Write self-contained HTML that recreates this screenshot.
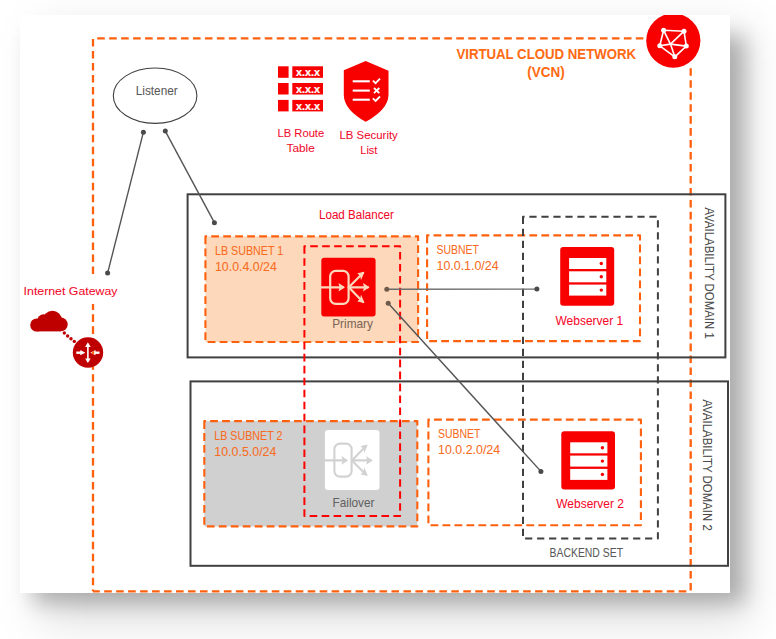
<!DOCTYPE html>
<html><head><meta charset="utf-8">
<style>
html,body{margin:0;padding:0;background:#fff;width:776px;height:639px;overflow:hidden;}
#shadow{position:absolute;left:33px;top:36px;width:712px;height:567px;background:rgba(0,0,0,0.24);filter:blur(10px);}#shadow2{position:absolute;left:40px;top:30px;width:708px;height:592px;background:rgba(0,0,0,0.13);filter:blur(22px);}
#card{position:absolute;left:20px;top:15px;width:710px;height:578px;background:#fff;}
svg{position:absolute;left:0;top:0;}
text{font-family:"Liberation Sans",sans-serif;stroke:currentColor;}
</style></head>
<body>
<div id="shadow2"></div><div id="shadow"></div><div id="card"></div>
<svg width="776" height="639" viewBox="0 0 776 639">
<defs>
<clipPath id="rarrow"><path d="M90.4,352.7 L95.5,350.1 L95.5,355.3 Z"/><rect x="95" y="351.5" width="4.5" height="2.4"/></clipPath>
<clipPath id="cardclip"><rect x="20" y="15" width="710" height="578"/></clipPath>
<clipPath id="peach"><rect x="205.4" y="236.4" width="212.7" height="105.6"/></clipPath>
</defs>

<!-- VCN dashed -->
<g stroke="#FF600D" stroke-width="2.3" stroke-dasharray="7.6 4.37" fill="none">
<line x1="93" y1="38.4" x2="690.7" y2="38.4" stroke-dashoffset="7.77"/>
<line x1="93" y1="37.2" x2="93" y2="591.3" stroke-dashoffset="10.17"/>
<line x1="690.7" y1="38.4" x2="690.7" y2="591.3" stroke-dashoffset="6.08"/>
<line x1="93" y1="591.3" x2="690.7" y2="591.3" stroke-dashoffset="0.8"/>
</g>

<!-- Availability domains -->
<rect x="187.6" y="194.3" width="537.8" height="163.1" fill="none" stroke="#404040" stroke-width="2"/>
<rect x="190.5" y="381.4" width="537.5" height="184.4" fill="none" stroke="#404040" stroke-width="2"/>
<text color="#404040" stroke-width="0.05" transform="translate(705.1,207.4) rotate(90)" font-size="12.3" fill="#4a4a4a" textLength="131.4" lengthAdjust="spacingAndGlyphs">AVAILABILITY DOMAIN 1</text>
<text color="#404040" stroke-width="0.05" transform="translate(703.4,399.4) rotate(90)" font-size="12.3" fill="#4a4a4a" textLength="131.4" lengthAdjust="spacingAndGlyphs">AVAILABILITY DOMAIN 2</text>

<!-- subnets -->
<rect x="205.4" y="236.4" width="212.7" height="105.6" fill="#FDD8BA"/><path d="M205.4,236.4 L205.4,342 L418.1,342 L418.1,236.4 Z" fill="none" stroke="#FF600D" stroke-width="2.1" stroke-dasharray="7.8 4.18" stroke-dashoffset="0" stroke-linejoin="round"/>
<path d="M427.1,235.4 L427.1,341.1 L640,341.1 L640,235.4 Z" fill="none" stroke="#FF600D" stroke-width="2.1" stroke-dasharray="7.8 4.18" stroke-dashoffset="0" stroke-linejoin="round"/>
<rect x="204.3" y="421.1" width="213" height="105.3" fill="#D0D0D0"/><path d="M204.3,421.1 L204.3,526.4 L417.3,526.4 L417.3,421.1 Z" fill="none" stroke="#FF600D" stroke-width="2.1" stroke-dasharray="7.8 4.18" stroke-dashoffset="0" stroke-linejoin="round"/>
<path d="M428.4,419.6 L428.4,525.3 L640.9,525.3 L640.9,419.6 Z" fill="none" stroke="#FF600D" stroke-width="2.1" stroke-dasharray="7.8 4.18" stroke-dashoffset="0" stroke-linejoin="round"/>

<text color="#F96B20" stroke-width="0.05" x="215" y="255" font-size="12.1" fill="#F96B20" textLength="68.3" lengthAdjust="spacingAndGlyphs">LB SUBNET 1</text>
<text color="#F96B20" stroke-width="0.05" x="215" y="270.7" font-size="12.1" fill="#F96B20" textLength="61.8" lengthAdjust="spacingAndGlyphs">10.0.4.0/24</text>
<text color="#F96B20" stroke-width="0.05" x="214.3" y="440" font-size="12.1" fill="#F96B20" textLength="68.1" lengthAdjust="spacingAndGlyphs">LB SUBNET 2</text>
<text color="#F96B20" stroke-width="0.05" x="214.3" y="455.6" font-size="12.1" fill="#F96B20" textLength="62.1" lengthAdjust="spacingAndGlyphs">10.0.5.0/24</text>
<text color="#F96B20" stroke-width="0.05" x="436.5" y="254" font-size="12.1" fill="#F96B20" textLength="42.5" lengthAdjust="spacingAndGlyphs">SUBNET</text>
<text color="#F96B20" stroke-width="0.05" x="436.5" y="270.4" font-size="12.1" fill="#F96B20" textLength="62.1" lengthAdjust="spacingAndGlyphs">10.0.1.0/24</text>
<text color="#F96B20" stroke-width="0.05" x="438" y="438.2" font-size="12.1" fill="#F96B20" textLength="42.5" lengthAdjust="spacingAndGlyphs">SUBNET</text>
<text color="#F96B20" stroke-width="0.05" x="438" y="454.4" font-size="12.1" fill="#F96B20" textLength="62.2" lengthAdjust="spacingAndGlyphs">10.0.2.0/24</text>

<!-- red failover box -->
<path d="M304.4,246.2 L304.4,516 L400.1,516 L400.1,246.2 Z" fill="none" stroke="#FF0000" stroke-width="2" stroke-dasharray="7.6 4.36" stroke-dashoffset="0" stroke-linejoin="round"/>

<!-- backend set -->
<path d="M523,216.7 L523,538.6 L657.9,538.6 L657.9,216.7 Z" fill="none" stroke="#404040" stroke-width="2" stroke-dasharray="7.2 4.8" stroke-dashoffset="0" stroke-linejoin="round"/>
<text color="#595959" stroke-width="0.05" x="549.6" y="557.1" font-size="12" fill="#595959" textLength="73.4" lengthAdjust="spacingAndGlyphs">BACKEND SET</text>

<!-- Load balancer label -->
<text color="#F2082A" stroke-width="0.05" x="319" y="219.1" font-size="12.3" fill="#F2082A" textLength="74.8" lengthAdjust="spacingAndGlyphs">Load Balancer</text>

<!-- Primary icon -->
<g>
<rect x="321.3" y="257.7" width="54.3" height="58.8" rx="3" fill="#F80000"/>
<g fill="none" stroke="#FCD9BD" stroke-width="2.2" stroke-linecap="round" stroke-linejoin="round">
<rect x="330.2" y="270.8" width="18.4" height="33" rx="5.5"/>
<line x1="321.3" y1="287.3" x2="343" y2="287.3"/>
<line x1="348.8" y1="287.3" x2="368" y2="287.3"/>
<line x1="348.8" y1="287.3" x2="363" y2="273"/>
<line x1="348.8" y1="287.3" x2="363" y2="302"/>
</g>
<g fill="#FCD9BD">
<path d="M345,287.3 L338.5,283 L339.5,287.3 L338.5,291.6 Z"/>
<path d="M369.5,287.3 L363,283 L364,287.3 L363,291.6 Z"/>
<path d="M364.5,271.8 L357.3,273.2 L360.3,276.3 L361,280.3 Z"/>
<path d="M364.5,303 L357.3,301.6 L360.3,298.5 L361,294.5 Z"/>
</g>
</g>
<text color="#7A6757" stroke-width="0.05" x="332.2" y="327.5" font-size="12.2" fill="#7A6757" textLength="40.8" lengthAdjust="spacingAndGlyphs">Primary</text>

<!-- Failover icon -->
<g>
<rect x="324.9" y="430.1" width="54.6" height="59.9" rx="3" fill="#FFFFFF"/>
<g fill="none" stroke="#D2D2D2" stroke-width="2.1" stroke-linecap="round" stroke-linejoin="round">
<rect x="334.4" y="443.6" width="17.2" height="33" rx="5.5"/>
<line x1="324.9" y1="460.4" x2="346" y2="460.4"/>
<line x1="351.9" y1="460.4" x2="371" y2="460.4"/>
<line x1="351.9" y1="460.4" x2="366" y2="446"/>
<line x1="351.9" y1="460.4" x2="366" y2="474.5"/>
</g>
<g fill="#D2D2D2">
<path d="M348,460.4 L341.5,456.1 L342.5,460.4 L341.5,464.7 Z"/>
<path d="M372.7,460.4 L366.2,456.1 L367.2,460.4 L366.2,464.7 Z"/>
<path d="M367.8,444.6 L360.6,446 L363.6,449.1 L364.3,453.1 Z"/>
<path d="M367.8,475.8 L360.6,474.4 L363.6,471.3 L364.3,467.3 Z"/>
</g>
</g>
<text color="#626262" stroke-width="0.05" x="332.6" y="507.4" font-size="12.2" fill="#626262" textLength="41.9" lengthAdjust="spacingAndGlyphs">Failover</text>

<!-- Webserver icons -->
<g id="ws1">
<rect x="560.2" y="247" width="54" height="58.7" rx="3" fill="#F80000"/>
<rect x="569.1" y="258" width="37.2" height="11" fill="#fff"/>
<rect x="569.1" y="271.3" width="37.2" height="11" fill="#fff"/>
<rect x="569.1" y="284.6" width="37.2" height="11" fill="#fff"/>
<circle cx="601.3" cy="263.5" r="1.7" fill="#F80000"/>
<circle cx="601.3" cy="276.8" r="1.7" fill="#F80000"/>
<circle cx="601.3" cy="290.1" r="1.7" fill="#F80000"/>
</g>
<text color="#F5082A" stroke-width="0.05" x="555.5" y="324.5" font-size="12" fill="#F5082A" textLength="67.7" lengthAdjust="spacingAndGlyphs">Webserver 1</text>
<g id="ws2">
<rect x="561.3" y="431.3" width="53.7" height="58.3" rx="3" fill="#F80000"/>
<rect x="570.2" y="442.3" width="37.2" height="11" fill="#fff"/>
<rect x="570.2" y="455.6" width="37.2" height="11" fill="#fff"/>
<rect x="570.2" y="468.9" width="37.2" height="11" fill="#fff"/>
<circle cx="602.4" cy="447.8" r="1.7" fill="#F80000"/>
<circle cx="602.4" cy="461.1" r="1.7" fill="#F80000"/>
<circle cx="602.4" cy="474.4" r="1.7" fill="#F80000"/>
</g>
<text color="#F5082A" stroke-width="0.05" x="556.3" y="508.4" font-size="12" fill="#F5082A" textLength="67.6" lengthAdjust="spacingAndGlyphs">Webserver 2</text>

<!-- connectors -->
<g stroke="#555" stroke-width="1.4" fill="none">
<line x1="386.8" y1="289.2" x2="536.9" y2="289.1" stroke="#6a6a6a"/>
<line x1="388.2" y1="303.2" x2="540.9" y2="471.4"/>
<line x1="143.4" y1="132.2" x2="107.6" y2="273.1"/>
<line x1="165.3" y1="131.1" x2="214.4" y2="222.7"/>
</g>
<g fill="#4a4a4a">
<circle cx="536.9" cy="289.1" r="2.5"/>
<circle cx="540.9" cy="471.4" r="2.5"/>
<circle cx="143.4" cy="132.2" r="2.5"/>
<circle cx="165.3" cy="131.1" r="2.5"/>
<circle cx="107.6" cy="273.1" r="2.5"/>
<circle cx="214.4" cy="222.7" r="2.5"/>
</g>
<g fill="#6E5B4B">
<circle cx="386.8" cy="289.2" r="2.5"/>
<circle cx="388.2" cy="303.2" r="2.5"/>
</g>

<!-- Listener -->
<ellipse cx="155.1" cy="95.7" rx="41.8" ry="27.7" fill="#fff" stroke="#404040" stroke-width="1.1"/>
<text color="#595959" stroke-width="0.05" x="135.7" y="95.4" font-size="12.1" fill="#595959" textLength="42.1" lengthAdjust="spacingAndGlyphs">Listener</text>

<!-- Route table -->
<g fill="#F80000">
<rect x="278" y="66.3" width="10.6" height="11.5"/>
<rect x="278" y="83" width="10.6" height="11.5"/>
<rect x="278" y="99.9" width="10.6" height="11.5"/>
<rect x="292.3" y="66.3" width="30.7" height="11.5"/>
<rect x="292.3" y="83" width="30.7" height="11.5"/>
<rect x="292.3" y="99.9" width="30.7" height="11.5"/>
</g>
<g fill="#fff" color="#fff" font-size="10" font-weight="bold" stroke-width="0.2">
<text x="296" y="76" textLength="24" lengthAdjust="spacingAndGlyphs">x.x.x</text>
<text x="296" y="92.7" textLength="24" lengthAdjust="spacingAndGlyphs">x.x.x</text>
<text x="296" y="109.6" textLength="24" lengthAdjust="spacingAndGlyphs">x.x.x</text>
</g>
<text color="#F2082A" stroke-width="0.05" x="277.6" y="136.6" font-size="11.4" fill="#F2082A" textLength="46.6" lengthAdjust="spacingAndGlyphs">LB Route</text>
<text color="#F2082A" stroke-width="0.05" x="286.6" y="152.1" font-size="11.4" fill="#F2082A" textLength="28.2" lengthAdjust="spacingAndGlyphs">Table</text>

<!-- Security list shield -->
<path d="M365.7,61 L388.5,70.8 L388.5,95 C388.5,106 378,115 365.7,121.8 C353.4,115 343.8,106 343.8,95 L343.8,70.3 Z" fill="#F80000"/>
<g stroke="#fff" stroke-width="2.1" fill="none">
<line x1="352.7" y1="81.3" x2="369.8" y2="81.3"/>
<line x1="352.7" y1="90.6" x2="369.8" y2="90.6"/>
<line x1="352.7" y1="99.7" x2="369.8" y2="99.7"/>
</g>
<g stroke="#fff" stroke-width="1.8" fill="none">
<polyline points="372.9,80.6 375.6,83.2 380,78.7"/>
<line x1="374" y1="88" x2="379.3" y2="93.2"/>
<line x1="379.3" y1="88" x2="374" y2="93.2"/>
<polyline points="372.9,98.4 375.6,101 380,96.5"/>
</g>
<text color="#F2082A" stroke-width="0.05" x="339.5" y="139" font-size="11.4" fill="#F2082A" textLength="58.3" lengthAdjust="spacingAndGlyphs">LB Security</text>
<text color="#F2082A" stroke-width="0.05" x="360.3" y="154.3" font-size="11.4" fill="#F2082A" textLength="17.1" lengthAdjust="spacingAndGlyphs">List</text>

<!-- VCN title -->
<text color="#FF6A13" stroke-width="0.05" x="456.4" y="59.3" font-size="14.4" font-weight="bold" fill="#FF6A13" textLength="179.7" lengthAdjust="spacingAndGlyphs">VIRTUAL CLOUD NETWORK</text>
<text color="#FF6A13" stroke-width="0.05" x="527.3" y="76.9" font-size="14.4" font-weight="bold" fill="#FF6A13" textLength="37.4" lengthAdjust="spacingAndGlyphs">(VCN)</text>

<!-- VCN icon -->
<g clip-path="url(#cardclip)"><circle cx="673.3" cy="40.6" r="29.6" fill="#fff"/><circle cx="673.3" cy="40.6" r="27.1" fill="#F80000"/></g>
<g stroke="#fff" stroke-width="1.6" fill="none" stroke-linejoin="round">
<polygon points="663.6,30.3 684,31.2 686.3,46.1 674.8,56.8 659.8,45.8"/>
<line x1="670.5" y1="44.1" x2="663.6" y2="30.3"/>
<line x1="670.5" y1="44.1" x2="684" y2="31.2"/>
<line x1="670.5" y1="44.1" x2="659.8" y2="45.8"/>
<line x1="670.5" y1="44.1" x2="686.3" y2="46.1"/>
<line x1="670.5" y1="44.1" x2="674.8" y2="56.8"/>
</g>
<g fill="#fff">
<circle cx="663.6" cy="30.3" r="2.5"/>
<circle cx="684" cy="31.2" r="2.5"/>
<circle cx="686.3" cy="46.1" r="2.5"/>
<circle cx="674.8" cy="56.8" r="2.5"/>
<circle cx="659.8" cy="45.8" r="2.5"/>
</g>

<!-- Internet gateway -->
<rect x="21" y="278" width="99" height="26" fill="#fff"/>
<text color="#F2082A" stroke-width="0.05" x="23.6" y="295.3" font-size="11.6" fill="#F2082A" textLength="93.9" lengthAdjust="spacingAndGlyphs">Internet Gateway</text>
<g fill="#BF0000">
<circle cx="36.8" cy="325" r="6.6"/>
<circle cx="43.5" cy="320.6" r="6.3"/>
<circle cx="52.4" cy="320.2" r="9.5"/>
<circle cx="60.8" cy="324.4" r="6.9"/>
<rect x="36.8" y="322" width="24" height="9.4"/>
</g>
<g fill="#BF0000">
<circle cx="64.3" cy="333" r="1.7"/>
<circle cx="67.6" cy="336" r="1.7"/>
<circle cx="71" cy="338.8" r="1.7"/>
<circle cx="74.3" cy="341.4" r="1.7"/>
</g>
<circle cx="88" cy="352.5" r="15.2" fill="#BF0000"/>
<g stroke="#fff" fill="none">
<line x1="87.9" y1="345" x2="87.9" y2="360" stroke-width="1.6"/>
<line x1="76.3" y1="352.7" x2="81" y2="352.7" stroke-width="2.4"/>
<line x1="99.5" y1="352.7" x2="95" y2="352.7" stroke-width="2.4"/>
</g>
<g fill="#fff">
<path d="M87.9,342.3 L85.1,346.9 L90.7,346.9 Z"/>
<path d="M87.9,363.1 L85.1,358.5 L90.7,358.5 Z"/>
<path d="M85.4,352.7 L80.3,350.1 L80.3,355.3 Z"/>
<path d="M90.4,352.7 L95.5,350.1 L95.5,355.3 Z"/>
</g>
<rect x="91.85" y="349" width="2.3" height="8" fill="#FF600D" clip-path="url(#rarrow)"/>
</svg>
</body></html>
